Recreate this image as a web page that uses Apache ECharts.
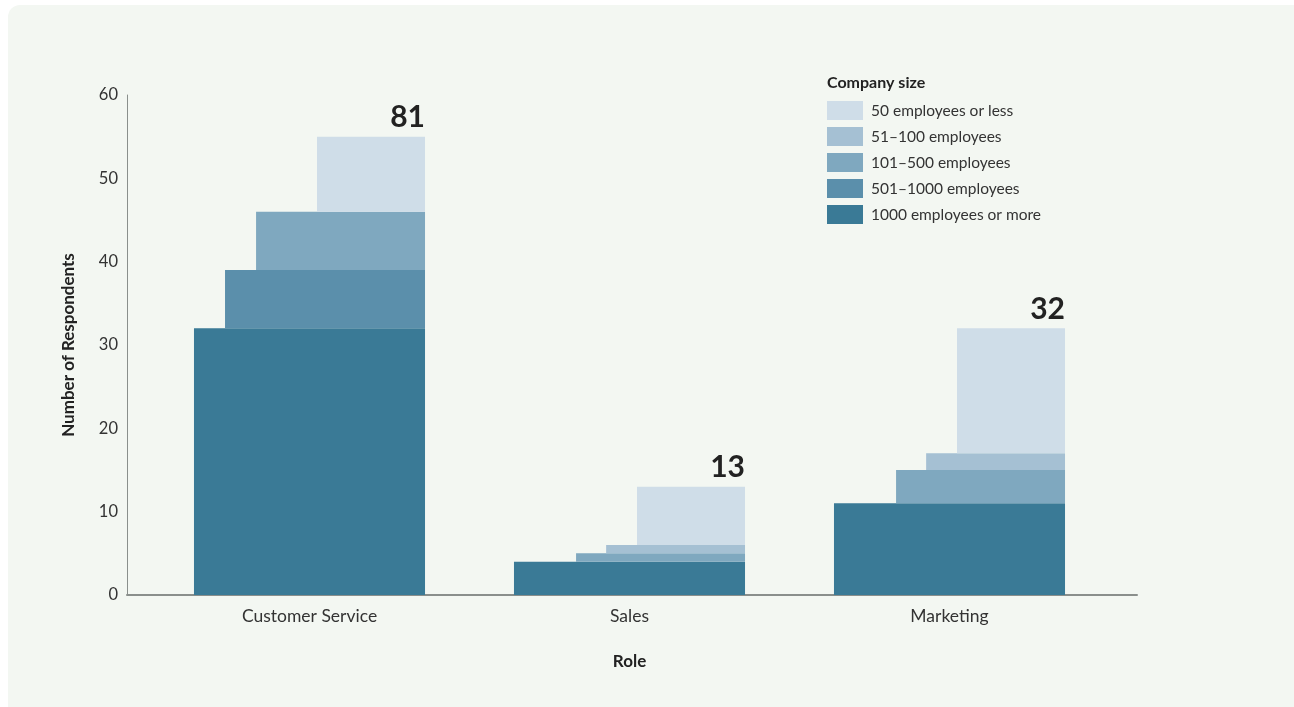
<!DOCTYPE html>
<html>
<head>
<meta charset="utf-8">
<script src="https://cdn.jsdelivr.net/npm/echarts@6/dist/echarts.min.js"></script>
<style>
  html, body { margin: 0; padding: 0; background: #ffffff; }
  #wrap { position: relative; width: 1294px; height: 707px; overflow: hidden; }
  #panel { position: absolute; left: 8px; top: 5px; width: 1300px; height: 720px;
           background: #f3f7f2; border-radius: 12px; }
  #chart { position: absolute; left: 0; top: 0; width: 1294px; height: 707px; }
</style>
</head>
<body>
<div id="wrap">
  <div id="panel"></div>
  <div id="chart"></div>
</div>
<script>
// Roles on the x axis
const roles = ['Customer Service', 'Sales', 'Marketing'];

// Respondents per company size for each role (stacked from the bottom up)
const size1000Plus = [32, 4, 11];
const size501to1000 = [7, 0, 0];
const size101to500 = [7, 1, 4];
const size51to100 = [0, 1, 2];
const size50OrLess = [9, 7, 15];

// Totals printed above each column
const totals = [81, 13, 32];

// Y axis ticks
const yMin = 0;
const yMax = 60;
const yStep = 10;

const sizeNames = [
  '1000 employees or more',
  '501–1000 employees',
  '101–500 employees',
  '51–100 employees',
  '50 employees or less'
];
const sizeColors = ['#3a7a96', '#5b8fab', '#7fa8bf', '#a5c0d3', '#cfdde8'];
const sizeValues = [size1000Plus, size501to1000, size101to500, size51to100, size50OrLess];
// Each step up the stack is a little narrower, all sharing a right edge
const widthFrac = [0.722, 0.625, 0.528, 0.434, 0.3375];
const rightFrac = 0.361;

const font = 'Lato, "Noto Sans", sans-serif';

// cumulative bases per role
const running = roles.map(() => 0);
const series = sizeValues.map((vals, s) => {
  const data = vals.map((v, i) => {
    const base = running[i];
    running[i] += v;
    return [i, base, base + v];
  });
  return {
    type: 'custom',
    name: sizeNames[s],
    xAxisIndex: 1,
    yAxisIndex: 1,
    itemStyle: { color: sizeColors[s] },
    data: data,
    renderItem: function (params, api) {
      const base = api.value(1), top = api.value(2);
      if (top <= base) return null;
      const pTop = api.coord([api.value(0), top]);
      const pBase = api.coord([api.value(0), base]);
      const band = api.size([1, 0])[0];
      const right = pTop[0] + band * rightFrac;
      const w = band * widthFrac[s];
      return {
        type: 'rect',
        shape: { x: right - w, y: pTop[1], width: w, height: pBase[1] - pTop[1] },
        style: { fill: sizeColors[s] }
      };
    }
  };
});

// total labels sit over the top of each column
series.push({
  type: 'custom',
  name: 'totals',
  xAxisIndex: 1,
  yAxisIndex: 1,
  silent: true,
  data: roles.map((r, i) => [i, running[i], totals[i]]),
  renderItem: function (params, api) {
    const p = api.coord([api.value(0), api.value(1)]);
    const band = api.size([1, 0])[0];
    return {
      type: 'text',
      x: p[0] + band * rightFrac,
      y: p[1] - 4,
      style: {
        text: String(api.value(2)),
        align: 'right',
        verticalAlign: 'bottom',
        fill: '#222222',
        font: 'bold 30px ' + font
      }
    };
  }
});

const chart = echarts.init(document.getElementById('chart'), null, { renderer: 'canvas' });
chart.setOption({
  backgroundColor: 'transparent',
  animation: false,
  textStyle: { fontFamily: font },
  title: {
    text: 'Company size',
    left: 827,
    top: 75,
    padding: 0,
    textStyle: { fontSize: 16, fontWeight: 'bold', color: '#222222', fontFamily: font }
  },
  legend: {
    orient: 'vertical',
    left: 827,
    top: 101,
    padding: 0,
    itemWidth: 36,
    itemHeight: 19,
    itemGap: 7,
    selectedMode: false,
    textStyle: { fontSize: 15.5, color: '#333333', fontFamily: font, padding: [0, 0, 0, 3] },
    data: sizeNames.slice().reverse().map((n) => ({
      name: n,
      icon: 'rect',
      itemStyle: { color: sizeColors[sizeNames.indexOf(n)] }
    }))
  },
  grid: [
    { left: 127, right: 157, top: 95, bottom: 112 },
    { left: 149.5, right: 184.5, top: 95, bottom: 112 }
  ],
  xAxis: [
    {
      type: 'value', gridIndex: 0, min: 0, max: 1,
      axisLine: { show: true, lineStyle: { color: '#8a8f8c', width: 2 } },
      axisTick: { show: false }, axisLabel: { show: false }, splitLine: { show: false }
    },
    {
      type: 'category', gridIndex: 1, data: roles,
      axisLine: { show: false }, axisTick: { show: false },
      axisLabel: { fontSize: 17.5, color: '#333333', margin: 12, fontFamily: font },
      name: 'Role', nameLocation: 'middle', nameGap: 58,
      nameTextStyle: { fontSize: 17, fontWeight: 'bold', color: '#222222', fontFamily: font }
    }
  ],
  yAxis: [
    {
      type: 'value', gridIndex: 0, min: yMin, max: yMax, interval: yStep,
      axisLine: { show: true, lineStyle: { color: '#8a8f8c', width: 1 } },
      axisTick: { show: false }, splitLine: { show: false },
      axisLabel: { fontSize: 16.5, color: '#333333', margin: 9, fontFamily: font },
      name: 'Number of Respondents', nameLocation: 'middle', nameGap: 50, nameRotate: 90,
      nameTextStyle: { fontSize: 17, fontWeight: 'bold', color: '#222222', fontFamily: font }
    },
    {
      type: 'value', gridIndex: 1, min: yMin, max: yMax, interval: yStep, show: false
    }
  ],
  series: series
});
</script>
</body>
</html>
